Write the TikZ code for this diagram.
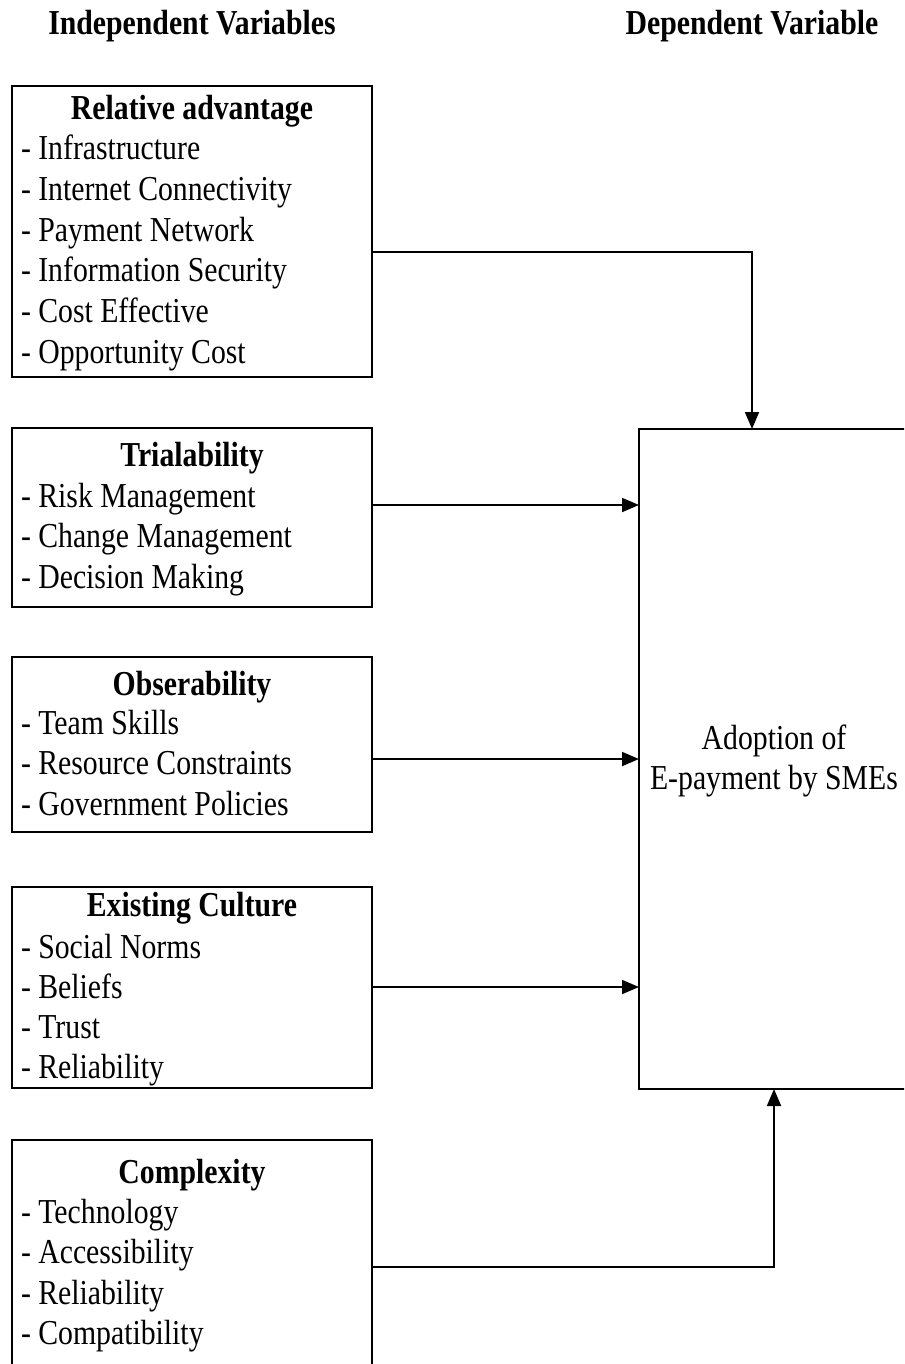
\documentclass[tikz,border=0pt]{standalone}
\usepackage{fontspec}
\setmainfont{Liberation Serif}[FakeStretch=0.85]
\usetikzlibrary{arrows.meta}
\begin{document}
\begin{tikzpicture}[x=1pt,y=-1pt,
  every node/.style={inner sep=0pt,outer sep=0pt,font=\fontsize{35}{40.6}\selectfont},
  box/.style={draw,line width=1.8pt,minimum width=360pt},
  lst/.style={anchor=base west},
  ttl/.style={anchor=base,font=\fontsize{35}{40.6}\selectfont\bfseries},
  txt/.style={anchor=base},
  conn/.style={line width=1.8pt,-{Triangle[length=17pt,width=14pt]}}]
\useasboundingbox (0,0) rectangle (904,1364);
\clip (0,0) rectangle (904,1364);

% headers
\node[ttl] (hIndep) at (192,35) {Independent Variables};
\node[ttl] (hDep) at (752,35) {Dependent Variable};

% boxes
\node[box,minimum height=291pt] (b1) at (192,231.5) {};
\node[box,minimum height=179pt] (b2) at (192,517.5) {};
\node[box,minimum height=175pt] (b3) at (192,744.5) {};
\node[box,minimum height=201pt] (b4) at (192,987.5) {};
\node[box,minimum height=240pt] (b5) at (192,1260) {};
\node[box,minimum width=270pt,minimum height=660pt] (big) at (774,759) {};

% box 1
\node[ttl] (t1) at (192,119.4) {Relative advantage};
\foreach \t [count=\i from 0] in {Infrastructure, Internet Connectivity, Payment Network, Information Security, Cost Effective, Opportunity Cost}
  \node[lst] (r\i) at (21,{160+40.6*\i}) {- \t};

% box 2
\node[ttl] (t2) at (192,466.5) {Trialability};
\foreach \t [count=\i from 0] in {Risk Management, Change Management, Decision Making}
  \node[lst] (s\i) at (21,{507+40.6*\i}) {- \t};

% box 3
\node[ttl] (t3) at (192,695) {Obserability};
\foreach \t [count=\i from 0] in {Team Skills, Resource Constraints, Government Policies}
  \node[lst] (o\i) at (21,{734+40.5*\i}) {- \t};

% box 4
\node[ttl] (t4) at (192,916) {Existing Culture};
\foreach \t [count=\i from 0] in {Social Norms, Beliefs, Trust, Reliability}
  \node[lst] (e\i) at (21,{958+40*\i}) {- \t};

% box 5
\node[ttl] (t5) at (192,1183) {Complexity};
\foreach \t [count=\i from 0] in {Technology, Accessibility, Reliability, Compatibility}
  \node[lst] (c\i) at (21,{1223+40.5*\i}) {- \t};

% dependent
\node[txt] (d1) at (774,749) {Adoption of};
\node[txt] (d2) at (774,789) {E-payment by SMEs};

% connectors
\draw[conn] (b1.east |- 0,252) -| ([xshift=-22pt]big.north);
\draw[conn] (b2.east |- 0,505) -- (big.west |- 0,505);
\draw[conn] (b3.east |- 0,759) -- (big.west |- 0,759);
\draw[conn] (b4.east |- 0,987) -- (big.west |- 0,987);
\draw[conn] (b5.east |- 0,1267) -| (big.south);
\end{tikzpicture}
\end{document}
